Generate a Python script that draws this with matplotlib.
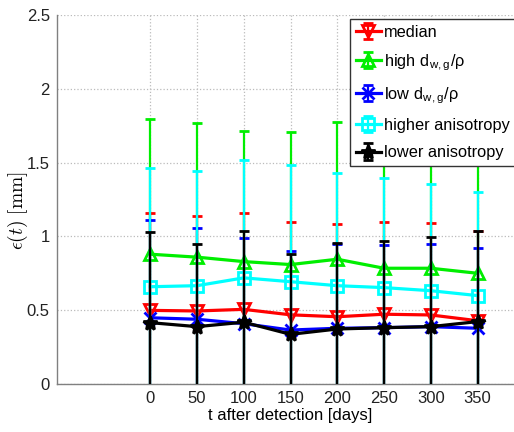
import numpy as np
import matplotlib
matplotlib.use("Agg")
import matplotlib.pyplot as plt

plt.rcParams['font.family'] = ['Liberation Sans', 'DejaVu Sans']
plt.rcParams['mathtext.fontset'] = 'cm'

days = [0, 50, 100, 150, 200, 250, 300, 350]

median = [0.50, 0.496, 0.507, 0.47, 0.457, 0.474, 0.469, 0.43]
median_up = [1.16, 1.137, 1.157, 1.10, 1.087, 1.10, 1.093, 1.035]

high = [0.88, 0.86, 0.83, 0.81, 0.846, 0.785, 0.785, 0.751]
high_up = [1.795, 1.77, 1.714, 1.705, 1.775, 1.74, 1.72, 1.65]

low = [0.45, 0.44, 0.41, 0.367, 0.379, 0.383, 0.39, 0.379]
low_up = [1.11, 1.055, 0.99, 0.90, 0.95, 0.945, 0.95, 0.924]

higher_aniso = [0.66, 0.667, 0.72, 0.694, 0.667, 0.654, 0.633, 0.60]
higher_aniso_up = [1.46, 1.445, 1.52, 1.48, 1.43, 1.398, 1.357, 1.303]

lower_aniso = [0.417, 0.39, 0.42, 0.338, 0.374, 0.383, 0.39, 0.424]
lower_aniso_up = [1.03, 0.95, 1.04, 0.88, 0.954, 0.97, 0.999, 1.037]

labels = ['median',
          r'high d$_{\mathregular{w,g}}$/$\mathregular{\rho}$',
          r'low d$_{\mathregular{w,g}}$/$\mathregular{\rho}$',
          'higher anisotropy',
          'lower anisotropy']
colors = ['#ff0000', '#00ee00', '#0000ff', '#00ffff', '#000000']
markers = ['v', '^', 'x', 's', '*']

yticks = [0, 0.5, 1, 1.5, 2, 2.5]
ytick_labels = ['0', '0.5', '1', '1.5', '2', '2.5']

fig = plt.figure(figsize=(5.14, 4.32), dpi=100)
ax = fig.add_axes([56.7/514, 1-384.3/432, 467.6/514, 369.6/432])

series = [(median, median_up), (high, high_up), (low, low_up),
          (higher_aniso, higher_aniso_up), (lower_aniso, lower_aniso_up)]
x = np.array(days)
for i, ((v, up), c, m, lab) in enumerate(zip(series, colors, markers, labels)):
    v = np.array(v)
    e = np.array(up) - v
    filled = m in ('x', '*')
    ax.errorbar(x, v, yerr=e, color=c, marker=m, markersize=8 if m != '*' else 10,
                markerfacecolor=c if filled else 'none', markeredgecolor=c,
                markeredgewidth=2, lw=2.3, elinewidth=1.6, capsize=3.5, capthick=1.8,
                label=lab, zorder=3 + i)

ax.set_xlim(-100, 400)
ax.set_ylim(0, 2.5)
ax.set_xticks(days)
ax.set_xticklabels([str(d) for d in days])
ax.set_yticks(yticks)
ax.set_yticklabels(ytick_labels)
ax.tick_params(labelsize=12, direction='in', length=0, pad=5, colors='#222222')
for s in ['top', 'right']:
    ax.spines[s].set_visible(False)
for s in ['left', 'bottom']:
    ax.spines[s].set_color('#808080')
    ax.spines[s].set_linewidth(1.0)
ax.grid(True, linestyle=':', color='#bbbbbb', lw=0.9)
ax.set_axisbelow(True)

ax.set_xlabel('t after detection [days]', fontsize=12, labelpad=1)
ax.set_ylabel(r'$\epsilon(t)\ [\mathrm{mm}]$', fontsize=14)
ax.yaxis.set_label_coords(-0.058, 0.47)

leg = fig.legend(loc='upper left', bbox_to_anchor=(350/514, 1-19/432),
                 fontsize=11.8, frameon=True, fancybox=False, handlelength=1.55,
                 handletextpad=0.2, borderpad=0.35, labelspacing=0.75, borderaxespad=0)
leg.get_frame().set_edgecolor('#333333')
leg.get_frame().set_linewidth(1.0)
leg.get_frame().set_alpha(1)

fig.savefig('out.png', dpi=100)
